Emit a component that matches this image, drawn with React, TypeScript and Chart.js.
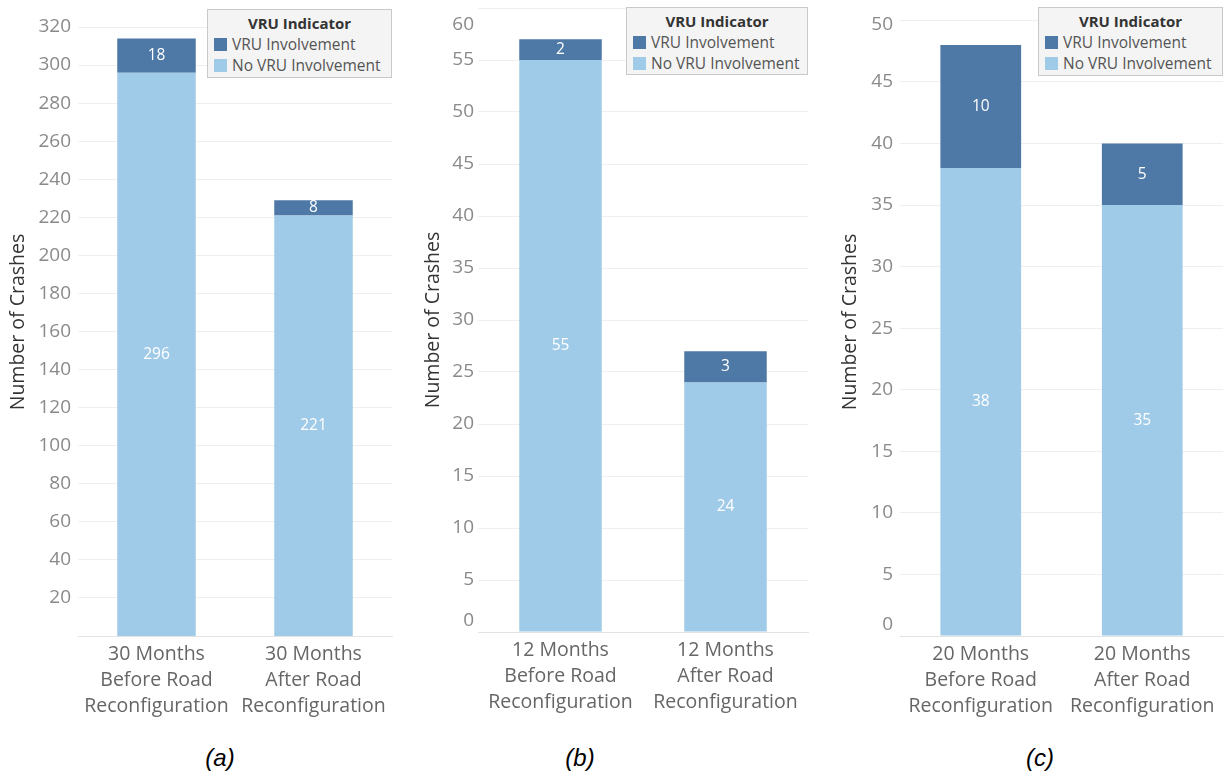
import React, { useEffect, useRef } from 'react';
import { Chart, registerables } from 'chart.js';

Chart.register(...registerables);

// ---------- data ----------
const seriesTop = 'VRU Involvement';
const seriesBottom = 'No VRU Involvement';

const categoriesA = [
  ['30 Months', 'Before Road', 'Reconfiguration'],
  ['30 Months', 'After Road', 'Reconfiguration'],
];
const vruA = [18, 8];
const noVruA = [296, 221];
const ticksA = [20, 40, 60, 80, 100, 120, 140, 160, 180, 200, 220, 240, 260, 280, 300, 320];

const categoriesB = [
  ['12 Months', 'Before Road', 'Reconfiguration'],
  ['12 Months', 'After Road', 'Reconfiguration'],
];
const vruB = [2, 3];
const noVruB = [55, 24];
const ticksB = [0, 5, 10, 15, 20, 25, 30, 35, 40, 45, 50, 55, 60];

const categoriesC = [
  ['20 Months', 'Before Road', 'Reconfiguration'],
  ['20 Months', 'After Road', 'Reconfiguration'],
];
const vruC = [10, 5];
const noVruC = [38, 35];
const ticksC = [0, 5, 10, 15, 20, 25, 30, 35, 40, 45, 50];

const captions = ['(a)', '(b)', '(c)'];
const legendTitle = 'VRU Indicator';
const yTitle = 'Number of Crashes';

// ---------- style ----------
const FONT = '"Open Sans", "Noto Sans", sans-serif';
const DARK = '#4e79a7';
const LIGHT = '#a0cbe8';
const H = 720;

type Panel = {
  cats: string[][];
  vru: number[];
  noVru: number[];
  ticks: number[];
  max: number;
  left: number;
  width: number;
  areaLeft: number;
  areaRight: number;
  areaBottom: number;
  titlePad: number;
  tickPad: number;
  caption: string;
  capX: number;
  legend: { left: number; top: number; width: number; height: number };
};

const panels: Panel[] = [
  {
    cats: categoriesA, vru: vruA, noVru: noVruA, ticks: ticksA, max: 330,
    left: 0, width: 400, areaLeft: 78, areaRight: 392, areaBottom: 636,
    titlePad: 7, tickPad: 7, caption: captions[0], capX: 220,
    legend: { left: 207, top: 9, width: 185, height: 69 },
  },
  {
    cats: categoriesB, vru: vruB, noVru: noVruB, ticks: ticksB, max: 60,
    left: 410, width: 410, areaLeft: 68, areaRight: 398, areaBottom: 632,
    titlePad: 12, tickPad: 4, caption: captions[1], capX: 580,
    legend: { left: 626, top: 7, width: 182, height: 68 },
  },
  {
    cats: categoriesC, vru: vruC, noVru: noVruC, ticks: ticksC, max: 51,
    left: 830, width: 394, areaLeft: 70, areaRight: 393, areaBottom: 636,
    titlePad: 9, tickPad: 7, caption: captions[2], capX: 1040,
    legend: { left: 1038, top: 7, width: 185, height: 69 },
  },
];

function yLabelsPlugin(p: Panel) {
  return {
    id: 'yLabels',
    afterDraw(chart: any) {
      const { ctx, chartArea } = chart;
      const s = chart.scales.y;
      ctx.save();
      ctx.font = `19px ${FONT}`;
      ctx.fillStyle = '#8a8a8a';
      ctx.textAlign = 'right';
      ctx.textBaseline = 'middle';
      for (const v of p.ticks) {
        let y = s.getPixelForValue(v);
        y = Math.min(Math.max(y, chartArea.top + 17), chartArea.bottom - 11);
        ctx.fillText(String(v), chartArea.left - p.tickPad, y);
      }
      ctx.restore();
    },
  };
}

const dataLabelsPlugin = {
  id: 'segLabels',
  afterDatasetsDraw(chart: any) {
    const { ctx } = chart;
    ctx.save();
    ctx.font = `15.5px ${FONT}`;
    ctx.fillStyle = '#ffffff';
    ctx.textAlign = 'center';
    ctx.textBaseline = 'middle';
    chart.data.datasets.forEach((ds: any, i: number) => {
      const meta = chart.getDatasetMeta(i);
      meta.data.forEach((bar: any, j: number) => {
        const { x, y, base } = bar.getProps(['x', 'y', 'base'], true);
        ctx.fillText(String(ds.data[j]), x, (y + base) / 2);
      });
    });
    ctx.restore();
  },
};

function BarPanel({ p }: { p: Panel }) {
  const ref = useRef<HTMLCanvasElement | null>(null);
  useEffect(() => {
    if (!ref.current) return;
    const chart = new Chart(ref.current, {
      type: 'bar',
      data: {
        labels: p.cats as any,
        datasets: [
          { label: seriesBottom, data: p.noVru, backgroundColor: LIGHT, stack: 's' },
          { label: seriesTop, data: p.vru, backgroundColor: DARK, stack: 's' },
        ],
      },
      options: {
        animation: false,
        responsive: false,
        maintainAspectRatio: false,
        layout: { padding: { left: 0, right: p.width - p.areaRight, top: 8, bottom: 0 } },
        plugins: { legend: { display: false }, tooltip: { enabled: false } },
        datasets: { bar: { categoryPercentage: 1, barPercentage: 0.5 } },
        scales: {
          x: {
            stacked: true,
            grid: { display: false, drawTicks: false },
            border: { display: true, color: '#e2e2e2' },
            ticks: {
              color: '#666666',
              padding: 5,
              maxRotation: 0,
              autoSkip: false,
              font: { family: FONT, size: 19.5, lineHeight: '26px' },
            },
            afterFit: (s: any) => { s.height = H - p.areaBottom; },
          },
          y: {
            stacked: true,
            min: 0,
            max: p.max,
            grid: { color: '#efefef', drawTicks: false },
            border: { display: false },
            ticks: { display: false },
            afterBuildTicks: (s: any) => { s.ticks = p.ticks.map((v) => ({ value: v })); },
            afterFit: (s: any) => { s.width = p.areaLeft; },
            title: {
              display: true,
              text: yTitle,
              color: '#333333',
              font: { family: FONT, size: 19.5 },
              padding: { top: p.titlePad, bottom: 0 },
            },
          },
        },
      } as any,
      plugins: [yLabelsPlugin(p), dataLabelsPlugin],
    });
    return () => chart.destroy();
  }, []);
  return (
    <canvas
      ref={ref}
      width={p.width}
      height={H}
      style={{ position: 'absolute', left: p.left, top: 0, width: p.width, height: H }}
    />
  );
}

function Legend({ p }: { p: Panel }) {
  const L = p.legend;
  const item = (color: string, text: string, top: number) => (
    <div style={{ position: 'absolute', left: 0, top, height: 21, width: '100%' }}>
      <div style={{ position: 'absolute', left: 6, top: 4, width: 13, height: 13, background: color }} />
      <div style={{ position: 'absolute', left: 24, top: 0, lineHeight: '21px', fontSize: 15.5, color: '#555', whiteSpace: 'nowrap' }}>{text}</div>
    </div>
  );
  return (
    <div
      style={{
        position: 'absolute', left: L.left, top: L.top, width: L.width, height: L.height,
        boxSizing: 'border-box', background: '#f4f4f4', border: '1px solid #c9c9c9', fontFamily: FONT,
      }}
    >
      <div style={{ position: 'absolute', left: 0, top: 3, width: '100%', textAlign: 'center', fontWeight: 'bold', fontSize: 15, lineHeight: '20px', color: '#333' }}>
        {legendTitle}
      </div>
      {item(DARK, seriesTop, 24)}
      {item(LIGHT, seriesBottom, 45)}
    </div>
  );
}

export default function App() {
  return (
    <div style={{ position: 'absolute', left: 0, top: 0, width: 1224, height: 772, background: '#ffffff', overflow: 'hidden' }}>
      {panels.map((p, i) => (
        <React.Fragment key={i}>
          <BarPanel p={p} />
          <Legend p={p} />
          <div
            style={{
              position: 'absolute', left: p.capX - 40, top: 744, width: 80, textAlign: 'center',
              fontFamily: '"Liberation Sans", Arial, sans-serif', fontStyle: 'italic', fontSize: 24, lineHeight: '28px', color: '#000',
            }}
          >
            {p.caption}
          </div>
        </React.Fragment>
      ))}
    </div>
  );
}
